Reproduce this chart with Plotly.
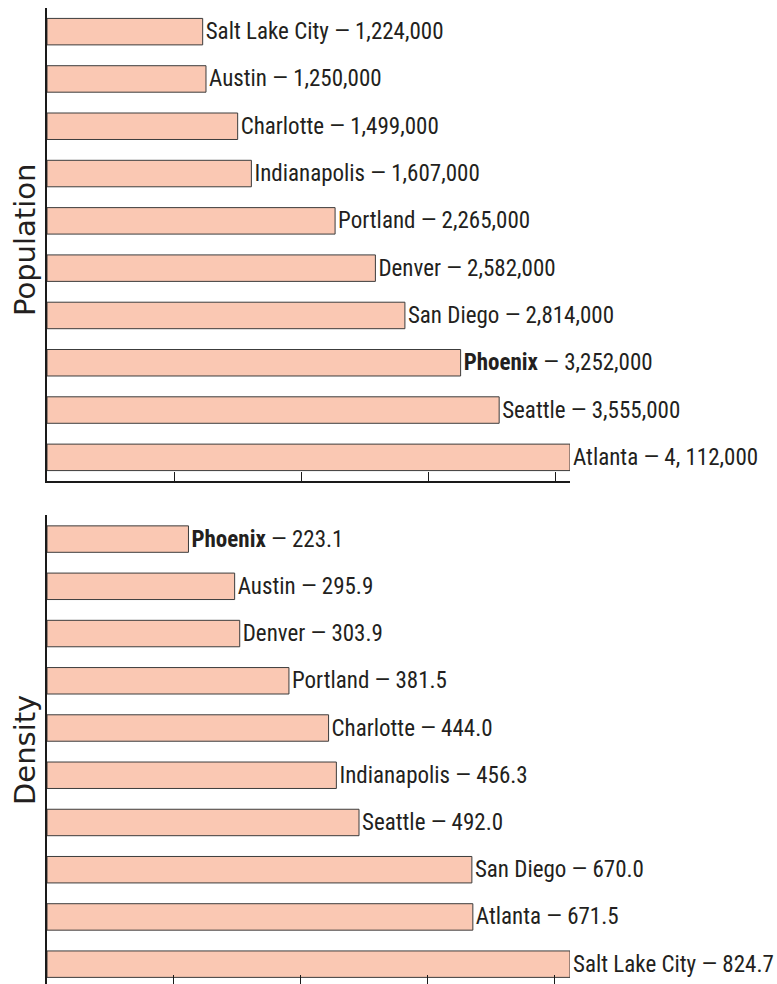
import plotly.graph_objects as go

# ---- data ----
pop_cities = ["Salt Lake City", "Austin", "Charlotte", "Indianapolis", "Portland",
              "Denver", "San Diego", "Phoenix", "Seattle", "Atlanta"]
pop_values = [1224000, 1250000, 1499000, 1607000, 2265000,
              2582000, 2814000, 3252000, 3555000, 4112000]
pop_labels = ["1,224,000", "1,250,000", "1,499,000", "1,607,000", "2,265,000",
              "2,582,000", "2,814,000", "3,252,000", "3,555,000", "4, 112,000"]

den_cities = ["Phoenix", "Austin", "Denver", "Portland", "Charlotte",
              "Indianapolis", "Seattle", "San Diego", "Atlanta", "Salt Lake City"]
den_values = [223.1, 295.9, 303.9, 381.5, 444.0, 456.3, 492.0, 670.0, 671.5, 824.7]
den_labels = ["223.1", "295.9", "303.9", "381.5", "444.0",
              "456.3", "492.0", "670.0", "671.5", "824.7"]

pop_ticks = [0, 1000000, 2000000, 3000000, 4000000]
den_ticks = [0, 200, 400, 600, 800]

highlight = "Phoenix"

W, H = 777, 984
FILL = "#fac8b3"
EDGE = "#3c3c3c"
TXT = "#231f20"
LABEL_FONT = "Roboto Condensed, Liberation Sans Narrow, sans-serif"
TITLE_FONT = "DejaVu Sans, sans-serif"


def make_text(cities, labels):
    out = []
    for c, l in zip(cities, labels):
        name = f"<b>{c}</b>" if c == highlight else c
        out.append(f"{name} — {l}")
    return out


fig = go.Figure()
fig.add_trace(go.Bar(
    x=pop_values, y=pop_cities, orientation="h",
    marker=dict(color=FILL, line=dict(color=EDGE, width=1)),
    text=make_text(pop_cities, pop_labels), textposition="outside",
    textfont=dict(family=LABEL_FONT, size=23, color=TXT),
    constraintext="none", cliponaxis=False,
    xaxis="x", yaxis="y", hoverinfo="skip", showlegend=False,
))
fig.add_trace(go.Bar(
    x=den_values, y=den_cities, orientation="h",
    marker=dict(color=FILL, line=dict(color=EDGE, width=1)),
    text=make_text(den_cities, den_labels), textposition="outside",
    textfont=dict(family=LABEL_FONT, size=23, color=TXT),
    constraintext="none", cliponaxis=False,
    xaxis="x2", yaxis="y2", hoverinfo="skip", showlegend=False,
))

xl, xr = 47 / W, 570 / W
top_dom = [1 - 481 / H, 1 - 8 / H]
bot_dom = [0, 1 - 515 / H]

xcommon = dict(showgrid=False, zeroline=False, showline=True, linecolor="#1a1a1a",
               linewidth=1.5, ticks="inside", ticklen=9, tickwidth=1.2,
               tickcolor="#1a1a1a", showticklabels=False, fixedrange=True)
ycommon = dict(showgrid=False, zeroline=False, showline=True, linecolor="#1a1a1a",
               linewidth=1.5, ticks="", showticklabels=False, fixedrange=True)

fig.update_layout(
    width=W, height=H,
    margin=dict(l=0, r=0, t=0, b=0),
    paper_bgcolor="white", plot_bgcolor="white",
    bargap=0.44,
    xaxis=dict(domain=[xl, xr], range=[0, max(pop_values)], anchor="y",
               tickvals=pop_ticks, **xcommon),
    yaxis=dict(domain=top_dom, range=[9.5, -0.5], anchor="x",
               categoryorder="array", categoryarray=pop_cities, **ycommon),
    xaxis2=dict(domain=[xl, xr], range=[0, max(den_values)], anchor="y2",
                tickvals=den_ticks, **xcommon),
    yaxis2=dict(domain=bot_dom, range=[9.42, -0.51], anchor="x2",
                categoryorder="array", categoryarray=den_cities, **ycommon),
    annotations=[
        dict(text="Population", x=25 / W, y=1 - 240 / H,
             xref="paper", yref="paper", textangle=-90, showarrow=False,
             xanchor="center", yanchor="middle",
             font=dict(family=TITLE_FONT, size=29, color=TXT)),
        dict(text="Density", x=25 / W, y=1 - 750 / H,
             xref="paper", yref="paper", textangle=-90, showarrow=False,
             xanchor="center", yanchor="middle",
             font=dict(family=TITLE_FONT, size=29, color=TXT)),
    ],
)

fig.write_html("out.html", config={"displayModeBar": False},
               post_script="document.body.style.margin='0';")
